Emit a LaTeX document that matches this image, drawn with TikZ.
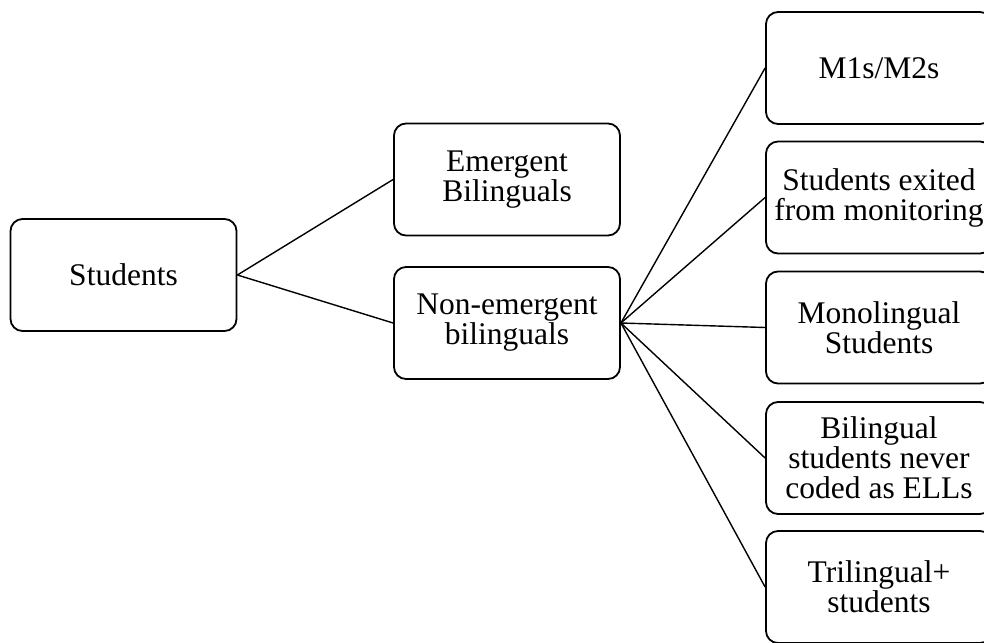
\documentclass[tikz,border=0pt]{standalone}
\usepackage{fontspec}
\setmainfont{Liberation Serif}
\begin{document}
\begin{tikzpicture}[x=1pt,y=-1pt,
  box/.style={draw, line width=1.8pt, rounded corners=12pt, minimum width=226pt,
    minimum height=112pt, align=center, inner sep=0pt,
    font=\fontsize{31.5}{30}\selectfont},
  link/.style={line width=1.4pt}]
\useasboundingbox (0,0) rectangle (984,642);
\clip (0,0) rectangle (984,642);
\node[box] (stu) at (123.5,275) {Students};
\node[box] (eb) at (507,179.5) {Emergent\\Bilinguals};
\node[box] (neb) at (507,323) {Non-emergent\\bilinguals};
\node[box] (m12) at (879,68) {M1s/M2s};
\node[box] (exit) at (879,197.5) {Students exited\\from monitoring};
\node[box] (mono) at (879,327.5) {Monolingual\\Students};
\node[box] (never) at (879,458) {Bilingual\\students never\\coded as ELLs};
\node[box] (tri) at (879,587) {Trilingual+\\students};
\draw[link] (stu.east) -- (eb.west);
\draw[link] (stu.east) -- (neb.west);
\foreach \t in {m12,exit,mono,never,tri}
  \draw[link] (neb.east) -- (\t.west);
\end{tikzpicture}
\end{document}
